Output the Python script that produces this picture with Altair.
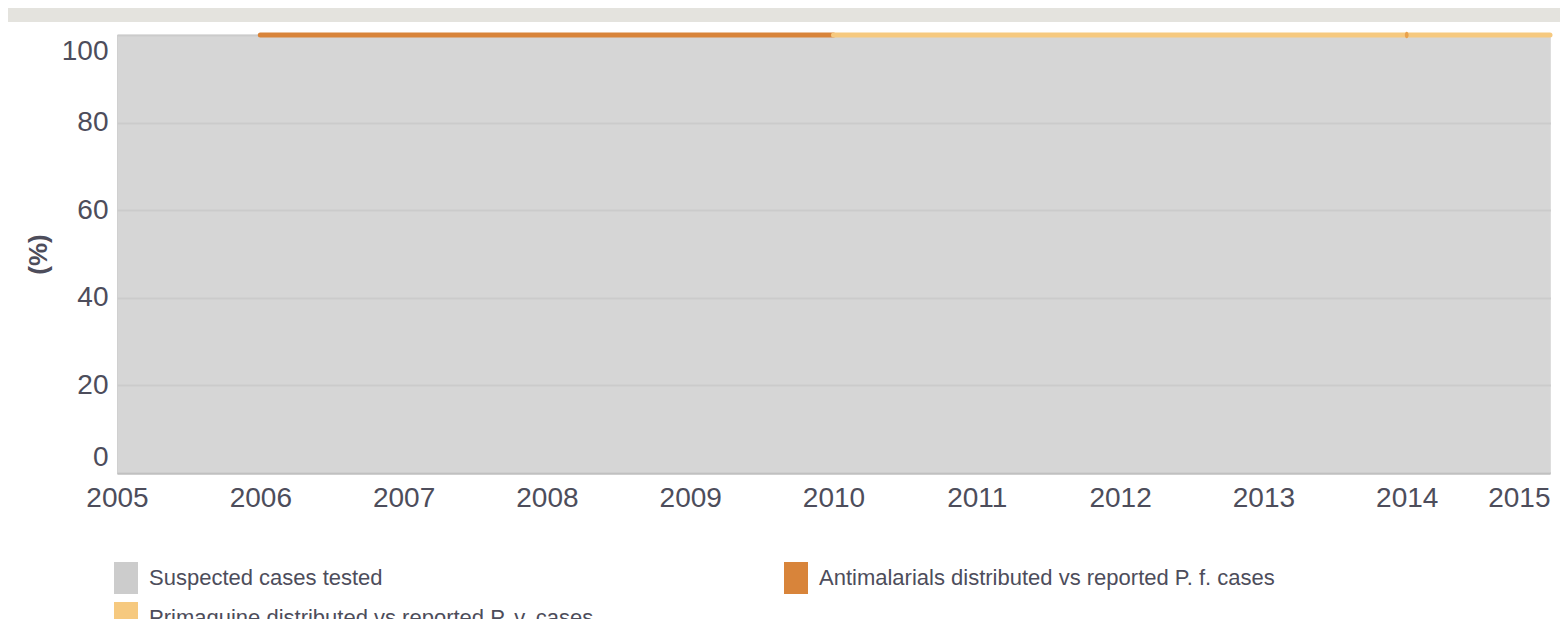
import altair as alt
import pandas as pd

# ---- data ----
series_names = [
    "Suspected cases tested",
    "Antimalarials distributed vs reported P. f. cases",
    "Primaquine distributed vs reported P. v. cases",
]
series_colors = ["#cccccc", "#d8843a", "#f6c97f"]

tested_years = [2005, 2006, 2007, 2008, 2009, 2010, 2011, 2012, 2013, 2014, 2015]
tested_values = [100, 100, 100, 100, 100, 100, 100, 100, 100, 100, 100]

antimalarial_years = [2006, 2007, 2008, 2009, 2010]
antimalarial_values = [100, 100, 100, 100, 100]

primaquine_years = [2010, 2011, 2012, 2013, 2014, 2015]
primaquine_values = [100, 100, 100, 100, 100, 100]

marker_years = [2014]
marker_values = [100]

x_ticks = [2005, 2006, 2007, 2008, 2009, 2010, 2011, 2012, 2013, 2014, 2015]
y_ticks = [0, 20, 40, 60, 80, 100]

# ---- tables ----
df_tested = pd.DataFrame({"year": tested_years, "value": tested_values, "series": series_names[0]})
df_anti = pd.DataFrame({"year": antimalarial_years, "value": antimalarial_values, "series": series_names[1]})
df_prim = pd.DataFrame({"year": primaquine_years, "value": primaquine_values, "series": series_names[2]})
df_marker = pd.DataFrame({"year": marker_years, "value": marker_values, "series": series_names[2]})
df_all = pd.concat([df_tested, df_anti, df_prim], ignore_index=True)

TEXT = "#4d4d5b"
W, H = 1433, 438

x_axis = alt.Axis(
    values=x_ticks, format="d", title=None, grid=False, ticks=False,
    domain=True, domainColor="#c0c0c0", domainWidth=2,
    labelFont="Liberation Sans", labelFontSize=28, labelColor=TEXT,
    labelPadding=11, labelFlush=False,
    labelAlign={"condition": {"test": "datum.value == 2015", "value": "right"}, "value": "center"},
)
y_axis = alt.Axis(
    values=y_ticks, title="(%)", grid=True, gridColor="#c0c0c0", gridWidth=2,
    domain=False, ticks=False,
    labelFont="Liberation Sans", labelFontSize=28, labelColor=TEXT,
    labelPadding=9, labelFlush=True, labelFlushOffset=-2,
    titleFont="Liberation Sans", titleFontSize=26, titleFontWeight="bold", titleColor=TEXT,
    titleX=-78.5, titleY=H / 2, titleAngle=-90, titleAlign="center", titleBaseline="middle",
)

x_enc = alt.X("year:Q", scale=alt.Scale(domain=[2005, 2015], nice=False, zero=False), axis=x_axis)
y_enc = alt.Y("value:Q", scale=alt.Scale(domain=[0, 100], nice=False), axis=y_axis)

legend_layer = alt.Chart(df_all).mark_point(filled=True, opacity=0).encode(
    x=x_enc, y=y_enc,
    color=alt.Color(
        "series:N",
        scale=alt.Scale(domain=series_names, range=series_colors),
        legend=alt.Legend(
            orient="none", legendX=-7, legendY=527, columns=2, direction="horizontal", title=None,
            symbolType="M-0.75,-1H0.75V1H-0.75Z", symbolSize=1024,
            symbolStrokeWidth=0, symbolOpacity=1,
            labelFont="Liberation Sans", labelFontSize=22, labelColor=TEXT,
            labelOffset=7, labelLimit=1000, columnPadding=186, rowPadding=8, padding=0,
        ),
    ),
)

area = alt.Chart(df_tested).mark_area(color="#cdcdcd", opacity=0.825).encode(x=x_enc, y=y_enc)

line_anti = alt.Chart(df_anti).mark_line(color=series_colors[1], strokeWidth=5, strokeCap="round").encode(
    x=x_enc, y=y_enc
)
line_prim = alt.Chart(df_prim).mark_line(color=series_colors[2], strokeWidth=5, strokeCap="round").encode(
    x=x_enc, y=y_enc
)
marker = alt.Chart(df_marker).mark_point(
    filled=True, shape="M0,-1A0.6,1 0 1 1 0,1A0.6,1 0 1 1 0,-1Z", size=40, color="#e9a24d", opacity=1
).encode(x=x_enc, y=y_enc)

banner = alt.Chart(df_marker).mark_rect(color="#e4e3de", clip=False).encode(
    x=alt.value(-120), x2=alt.value(W + 20), y=alt.value(-27), y2=alt.value(-13)
)

chart = alt.layer(legend_layer, area, line_anti, line_prim, marker, banner).properties(
    width=W, height=H,
    autosize=alt.AutoSizeParams(type="none"),
    padding={"left": 109, "top": 27, "right": 10, "bottom": 146},
).configure_view(stroke=None).configure(background="white")

chart.save("out.html", embed_options={"renderer": "svg", "actions": False})
